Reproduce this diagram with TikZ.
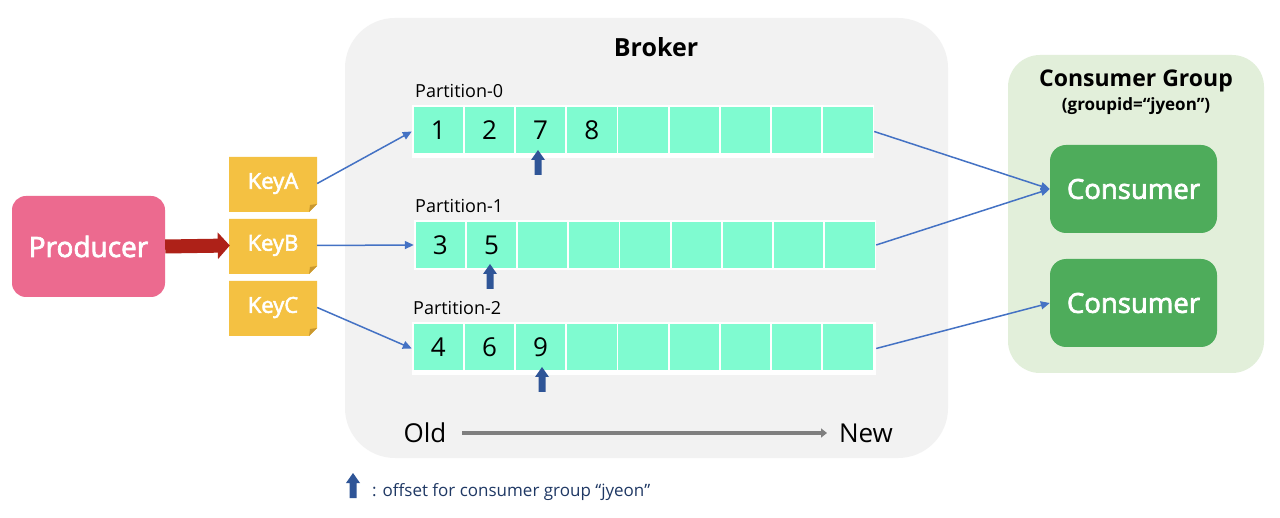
\documentclass[tikz,border=0pt]{standalone}
\usepackage{fontspec}
\setmainfont{Open Sans}
\newfontfamily\medfont[FakeBold=2.5]{Open Sans}
\usetikzlibrary{arrows.meta,positioning}
\definecolor{brokerbg}{HTML}{F2F2F2}
\definecolor{cgbg}{HTML}{E2EFDA}
\definecolor{prodpink}{HTML}{EC6A8F}
\definecolor{keyyel}{HTML}{F4C142}
\definecolor{keyfold}{HTML}{C9982F}
\definecolor{cellgreen}{HTML}{7FFBD0}
\definecolor{consgreen}{HTML}{4EAC5B}
\definecolor{linkblue}{HTML}{4472C4}
\definecolor{offblue}{HTML}{2F5597}
\definecolor{redarr}{HTML}{AE2118}
\definecolor{grayarr}{HTML}{7F7F7F}
\definecolor{legendtxt}{HTML}{1F3864}
\tikzset{
  link/.style={draw=linkblue, line width=1.5pt, -{Triangle[length=9pt,width=8pt]}},
  rowstrip/.style={fill=white, draw=none, rectangle, inner sep=0pt},
  cellbox/.style={fill=cellgreen, draw=none, rectangle, minimum width=49.5pt, minimum height=46pt, inner sep=0pt, font=\fontsize{26}{28}\selectfont},
  plabel/.style={anchor=base west, inner sep=0pt, font=\fontsize{18}{20}\selectfont},
  keybox/.style={fill=keyyel, minimum width=88pt, minimum height=55pt, inner sep=0pt, text=white, font=\medfont\fontsize{22}{24}\selectfont},
  consbox/.style={fill=consgreen, rounded corners=16pt, minimum width=167pt, minimum height=88pt, inner sep=0pt, text=white, font=\medfont\fontsize{27.5}{30}\selectfont},
  offarr/.pic={\fill[offblue] (-3.5,25) -- (-3.5,10) -- (-7,10) -- (0,0) -- (7,10) -- (3.5,10) -- (3.5,25) -- cycle;}
}
\newcommand{\keyshape}[2]{% x, ytop
  \fill[keyyel] (#1,#2) -- ({#1+88},#2) -- ({#1+88},{#2+47}) -- ({#1+80},{#2+55}) -- (#1,{#2+55}) -- cycle;
  \fill[keyfold] ({#1+88},{#2+47}) -- ({#1+80},{#2+55}) -- ({#1+81},{#2+48}) -- cycle;
}
\begin{document}
\begin{tikzpicture}[x=1pt,y=-1pt]
\useasboundingbox (0,0) rectangle (1280,518);
\fill[white] (0,0) rectangle (1280,518);
% Broker
\fill[brokerbg, rounded corners=50pt] (345,18) rectangle (948,458);
\node[font=\bfseries\fontsize{25}{28}\selectfont] (broker) at (656,47) {Broker};
% Consumer group
\fill[cgbg, rounded corners=32pt] (1008,55) rectangle (1264,373);
\node[font=\bfseries\fontsize{23}{26}\selectfont] (cgt) at (1136,81) {Consumer Group};
\node[font=\bfseries\fontsize{17}{20}\selectfont] (cgid) at (1136,106) {(groupid=“jyeon”)};
\node[consbox] (c1) at (1133.5,189) {Consumer};
\node[consbox] (c2) at (1133.5,303) {Consumer};
% Producer
\node[fill=prodpink, rounded corners=14pt, minimum width=153pt, minimum height=101pt, inner sep=0pt, text=white, font=\medfont\fontsize{28}{30}\selectfont] (prod) at (88.5,246.5) {Producer};
% Keys
\keyshape{229}{157}
\keyshape{229}{219}
\keyshape{229}{281}
\node[keybox, fill=none] (ka) at (273,183.5) {KeyA};
\node[keybox, fill=none] (kb) at (273,245.5) {KeyB};
\node[keybox, fill=none] (kc) at (273,307.5) {KeyC};
\draw[redarr, line width=14pt, -{Triangle[length=12pt,width=26pt]}] (prod.east) -- ([xshift=1pt]kb.west);
% Partitions
\node[plabel] (pl0) at (415,98) {Partition-0};
\node[plabel] (pl1) at (415,213) {Partition-1};
\node[plabel] (pl2) at (413,315) {Partition-2};
\node[rowstrip, minimum width=462pt, minimum height=53pt] (row0) at (643,131.5) {};
\node[rowstrip, minimum width=462pt, minimum height=50pt] (row1) at (645,245) {};
\node[rowstrip, minimum width=464pt, minimum height=53pt] (row2) at (644,348.5) {};
\foreach \i/\t in {1/1,2/2,3/7,4/8,5/,6/,7/,8/,9/}{
  \node[cellbox] (p0c\i) at ({413.5+24.75+(\i-1)*51.2},130) {\t};
}
\foreach \i/\t in {1/3,2/5,3/,4/,5/,6/,7/,8/,9/}{
  \node[cellbox] (p1c\i) at ({415.5+24.75+(\i-1)*51.2},245) {\t};
}
\foreach \i/\t in {1/4,2/6,3/9,4/,5/,6/,7/,8/,9/}{
  \node[cellbox] (p2c\i) at ({413.5+24.75+(\i-1)*51.2},347.5) {\t};
}
% offsets
\pic at (538,150) {offarr};
\pic at (490,264) {offarr};
\pic at (542,367) {offarr};
% links
\draw[link] (ka.east) -- (row0.west);
\draw[link] (kb.east) -- (row1.west);
\draw[link] (kc.east) -- (row2.west);
\draw[link] (row0.east) -- (c1.west);
\draw[link] (row1.east) -- (c1.west);
\draw[link] (row2.east) -- (c2.west);
% old/new
\node[font=\fontsize{26}{28}\selectfont] (old) at (425,433) {Old};
\node[font=\fontsize{26}{28}\selectfont] (new) at (866,433) {New};
\coordinate (ga) at (462,433);
\coordinate (gb) at (827,433);
\draw[grayarr, line width=4pt, -{Triangle[length=6pt,width=9pt]}] (ga) -- (gb);
% legend
\pic at (353,473) {offarr};
\node[anchor=base west, inner sep=0pt, text=legendtxt, font=\fontsize{17}{20}\selectfont] (leg) at (372,496) {: offset for consumer group “jyeon”};
\end{tikzpicture}
\end{document}
